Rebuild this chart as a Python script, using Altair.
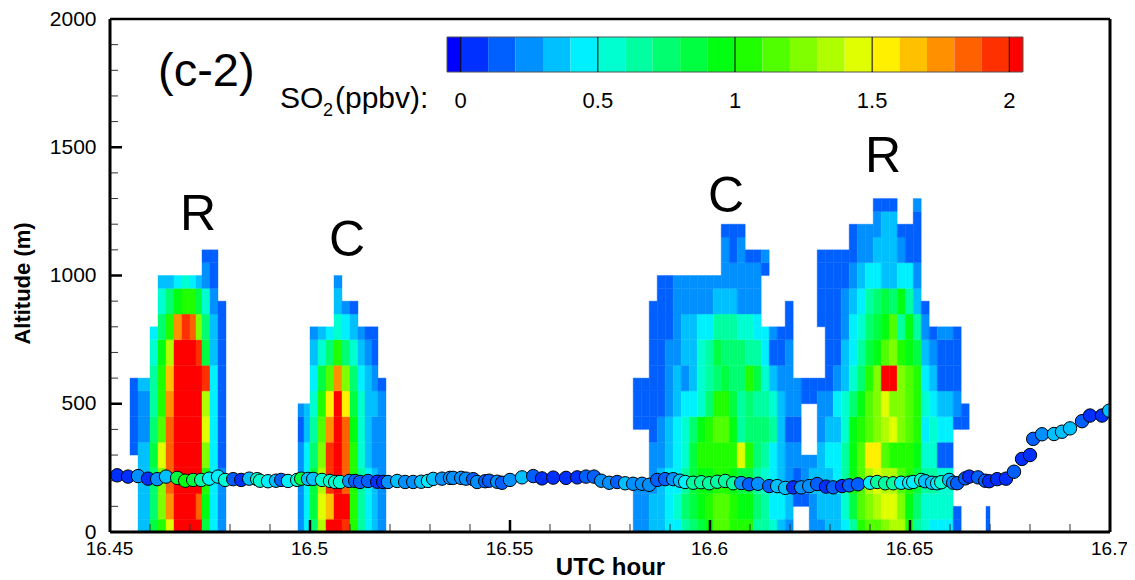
import altair as alt
import pandas as pd

_ = None
FONT = "Liberation Sans"

# colour bands (ppbv): below 0, then one band per 0.1 up to 2, then above 2
band_breaks = [round(i / 10, 1) for i in range(0, 21)]
band_colors = ["#0000ff", "#0030ff", "#0060ff", "#0090ff", "#00c0ff", "#00f0ff", "#00ffd0", "#00ffa0",
               "#00ff70", "#00ff40", "#00ff10", "#20ff00", "#50ff00", "#80ff00", "#b0ff00", "#e0ff00",
               "#fff000", "#ffc000", "#ff9000", "#ff6000", "#ff3000", "#ff0000"]
# band index: values in tenths of ppbv, 21 = above 2

plume1_edges = [16.4550, 16.4570, 16.4600, 16.4620, 16.4640, 16.4660, 16.4680, 16.4700, 16.4715, 16.4730,
                16.4750, 16.4770, 16.4790]
plume1_rows = [
    [_, 3, 8, 10, 14, 21, 21, 21, 20, 8, 4, 2],
    [_, 3, 7, 12, 17, 21, 21, 21, 18, 9, 4, 2],
    [_, 3, 7, 12, 18, 21, 21, 21, 21, 10, 4, 2],
    [1, 3, 8, 14, 18, 21, 21, 21, 21, 12, 4, 1],
    [1, 2, 7, 11, 18, 21, 21, 21, 21, 14, 4, 1],
    [1, 2, 6, 10, 17, 21, 21, 21, 21, 13, 4, 1],
    [1, 3, 6, 10, 16, 21, 21, 21, 21, 19, 4, 1],
    [_, _, 5, 9, 13, 21, 21, 21, 19, 8, 3, 1],
    [_, _, 4, 7, 10, 17, 19, 18, 12, 7, 3, 1],
    [_, _, _, 5, 7, 9, 10, 10, 8, 5, 2, 1],
    [_, _, _, 3, 3, 4, 5, 4, 3, 2, 1, _],
    [_, _, _, _, _, _, _, _, _, 1, 1, _],
]

plume2_edges = [16.4970, 16.4985, 16.5000, 16.5020, 16.5040, 16.5060, 16.5080, 16.5100, 16.5120, 16.51375,
                16.5155, 16.5170, 16.5190]
plume2_rows = [
    [2, 4, 7, 13, 20, 21, 19, 10, 6, 4, 3, 2],
    [2, 4, 8, 14, 16, 21, 20, 10, 6, 4, 3, 2],
    [2, 4, 8, 13, 19, 21, 18, 10, 6, 4, 3, 2],
    [2, 4, 7, 12, 19, 21, 18, 10, 5, 3, 2, 2],
    [1, 3, 6, 11, 17, 21, 18, 9, 5, 3, 2, 2],
    [2, 3, 5, 10, 15, 21, 15, 8, 5, 3, 3, 2],
    [_, _, 4, 8, 11, 17, 12, 7, 4, 3, 2, 1],
    [_, _, 3, 5, 7, 10, 7, 5, 3, 2, 1, _],
    [_, _, 2, 3, 4, 5, 4, 3, 2, 1, 1, _],
    [_, _, _, _, _, 3, 2, 1, _, _, _, _],
    [_, _, _, _, _, 2, _, _, _, _, _, _],
]

plume3_edges = [16.5808, 16.5828, 16.5848, 16.5868, 16.5888, 16.5908, 16.5928, 16.5948, 16.5968, 16.5988,
                16.6008, 16.6028, 16.6048, 16.6068, 16.6088, 16.6108, 16.6128, 16.6148, 16.6168, 16.6188,
                16.6208, 16.6228, 16.6248, 16.6268, 16.6288, 16.6308, 16.6328, 16.6348, 16.6368, 16.6388,
                16.6408, 16.6428, 16.6448, 16.6468, 16.6488, 16.6508, 16.6528, 16.6548, 16.6568, 16.6588,
                16.6608, 16.6628, 16.6648]
plume3_rows = [
    [2, 2, 3, 3, 4, 4, 6, 7, 8, 9, 11, 11, 10, 10, 10, 6, 6, 5, 3, 2, _, _, 2, 2, 3, 3, 4, 6, 10, 11, 11, 12, 13, 13, 10, 6, 5, 4, 4, 4, 1, _],
    [2, 2, 3, 3, 4, 5, 7, 8, 9, 10, 11, 11, 10, 9, 9, 7, 6, 4, 4, 3, 1, 1, 2, 3, 3, 3, 5, 8, 11, 12, 13, 14, 14, 12, 9, 7, 5, 5, 5, 5, 1, _],
    [2, 2, 2, 3, 4, 4, 6, 8, 9, 9, 10, 10, 9, 8, 8, 6, 5, 4, 3, 2, 1, 2, 3, 3, 3, 4, 6, 9, 11, 13, 14, 13, 13, 11, 10, 8, 6, 6, 5, 5, _, _],
    [_, _, 2, 2, 3, 4, 5, 8, 10, 10, 10, 10, 10, 14, 10, 7, 6, 4, 3, 2, 2, 2, 2, 3, 4, 4, 6, 9, 11, 15, 15, 11, 10, 10, 10, 9, 5, 5, 1, 1, _, _],
    [1, 1, 1, 2, 3, 4, 5, 7, 9, 10, 11, 11, 9, 6, 7, 7, 7, 6, 3, 1, 1, _, _, 2, 3, 3, 5, 9, 10, 11, 12, 13, 14, 12, 11, 10, 4, 5, 4, 4, 1, 1],
    [1, 1, 1, 1, 2, 3, 4, 4, 5, 7, 10, 10, 8, 6, 7, 6, 6, 5, 3, 2, 2, 1, 1, 2, 2, 4, 5, 7, 9, 11, 12, 14, 12, 12, 11, 10, 5, 4, 3, 3, 2, 1],
    [1, 1, 1, 1, 2, 3, 2, 3, 5, 6, 7, 8, 7, 7, 10, 8, 5, 3, 2, 2, 2, 1, 1, 1, 1, 2, 3, 5, 7, 10, 12, 21, 21, 12, 11, 10, 4, 3, 1, 1, 1, _],
    [_, _, 1, 1, 2, 2, 3, 3, 5, 6, 8, 7, 7, 7, 6, 6, 4, 1, 1, 2, _, _, _, _, 1, 1, 3, 4, 6, 8, 9, 11, 12, 10, 9, 8, 3, 2, 1, 1, 1, _],
    [_, _, 1, 1, 1, 2, 3, 3, 4, 4, 6, 6, 6, 5, 5, 4, 4, 2, 1, 1, _, _, _, 1, 1, 1, 2, 4, 5, 7, 8, 9, 11, 6, 9, 6, 2, 1, 2, 2, 1, _],
    [_, _, 1, 1, 1, 2, 2, 2, 2, 2, 3, 3, 3, 2, 2, 2, _, _, _, 1, _, _, _, 1, 1, 1, 2, 3, 4, 6, 7, 8, 7, 9, 6, 3, 1, _, _, _, _, _],
    [_, _, _, 1, 1, 2, 2, 2, 2, 2, 2, 2, 2, 2, 2, 2, 1, _, _, _, _, _, _, 1, 1, 1, 1, 2, 3, 4, 4, 3, 3, 4, 4, 2, _, _, _, _, _, _],
    [_, _, _, _, _, _, _, _, _, _, _, 2, 1, 2, 1, 1, 2, _, _, _, _, _, _, 1, 1, 1, 1, 1, 2, 2, 3, 3, 3, 2, 1, 1, _, _, _, _, _, _],
    [_, _, _, _, _, _, _, _, _, _, _, 1, 1, 1, _, _, _, _, _, _, _, _, _, _, _, _, _, 1, 2, 2, 2, 3, 3, 1, 1, 1, _, _, _, _, _, _],
    [_, _, _, _, _, _, _, _, _, _, _, _, _, _, _, _, _, _, _, _, _, _, _, _, _, _, _, _, _, _, 1, 1, 1, _, _, 2, _, _, _, _, _, _],
]

sliver_edges = [16.6690, 16.6700]
sliver_rows = [[1], [1]]

flight_hour = [16.4518, 16.4545, 16.4570, 16.4595, 16.4618, 16.4640, 16.4668, 16.4688, 16.4708, 16.4728,
               16.4748, 16.4770, 16.4788, 16.4808, 16.4828, 16.4848, 16.4868, 16.4875, 16.4895, 16.4915,
               16.4928, 16.4945, 16.4968, 16.4978, 16.4995, 16.5008, 16.5030, 16.5050, 16.5063, 16.5075,
               16.5098, 16.5113, 16.5125, 16.5145, 16.5168, 16.5183, 16.5195, 16.5218, 16.5238, 16.5258,
               16.5278, 16.5295, 16.5308, 16.5330, 16.5350, 16.5358, 16.5378, 16.5390, 16.5408, 16.5418,
               16.5438, 16.5448, 16.5468, 16.5480, 16.5500, 16.5530, 16.5558, 16.5580, 16.5608, 16.5640,
               16.5668, 16.5690, 16.5710, 16.5728, 16.5748, 16.5768, 16.5788, 16.5808, 16.5830, 16.5848,
               16.5868, 16.5888, 16.5908, 16.5925, 16.5938, 16.5958, 16.5978, 16.5998, 16.6018, 16.6038,
               16.6058, 16.6078, 16.6098, 16.6120, 16.6148, 16.6168, 16.6188, 16.6208, 16.6228, 16.6248,
               16.6268, 16.6290, 16.6308, 16.6330, 16.6348, 16.6370, 16.6400, 16.6418, 16.6438, 16.6458,
               16.6478, 16.6498, 16.6508, 16.6528, 16.6538, 16.6555, 16.6568, 16.6578, 16.6598, 16.6608,
               16.6618, 16.6638, 16.6648, 16.6670, 16.6688, 16.6698, 16.6718, 16.6740, 16.6760, 16.6780,
               16.6800, 16.6808, 16.6830, 16.6860, 16.6880, 16.6900, 16.6930, 16.6950, 16.6980, 16.6998]
flight_alt = [221, 216, 218, 208, 206, 216, 211, 200, 203, 203,
              208, 216, 203, 206, 203, 208, 206, 200, 198, 200,
              203, 199, 203, 208, 207, 207, 203, 199, 195, 195,
              199, 199, 195, 199, 196, 195, 195, 199, 195, 195,
              196, 199, 207, 208, 211, 211, 211, 208, 206, 195,
              198, 200, 196, 192, 203, 213, 218, 209, 212, 211,
              213, 216, 216, 200, 192, 195, 190, 188, 188, 184,
              203, 206, 206, 200, 195, 192, 194, 190, 196, 199,
              190, 191, 186, 188, 179, 179, 172, 174, 174, 179,
              187, 177, 174, 179, 182, 186, 192, 195, 190, 190,
              192, 192, 195, 203, 198, 192, 190, 194, 203, 192,
              190, 209, 216, 213, 200, 198, 206, 208, 235, 285,
              300, 363, 381, 382, 391, 404, 432, 454, 454, 473]
flight_band = [0, 0, 2, 0, 2, 3, 8, 9, 8, 6, 4, 4, 5, 1, 0, 3, 5, 5, 4, 3, 1, 4, 5, 8, 3, 3, 5, 5, 5, 5, 2, 1, 1,
               1, 0, 0, 2, 3, 2, 2, 3, 4, 3, 2, 2, 2, 2, 2, 1, 2, 1, 1, 2, 1, 2, 3, 1, 0, 0, 0, 0, 1, 1, 2, 2, 1,
               3, 2, 2, 2, 1, 1, 2, 3, 4, 6, 6, 6, 6, 6, 6, 2, 1, 2, 1, 3, 3, 0, 2, 2, 1, 0, 1, 0, 1, 1, 4,
               6, 6, 6, 4, 4, 4, 5, 3, 3, 4, 5, 3, 2, 1, 1, 0, 1, 1, 0, 0, 0, 1,
               0, 0, 1, 2, 3, 3, 3, 1, 0, 0, 3]

x_major = [16.5, 16.55, 16.6, 16.65]
x_minor = [16.46, 16.47, 16.48, 16.49, 16.51, 16.52, 16.53, 16.54, 16.56, 16.57, 16.58, 16.59,
           16.61, 16.62, 16.63, 16.64, 16.66, 16.67, 16.68, 16.69]
y_major = [500, 1000, 1500]
y_minor = [100, 200, 300, 400, 600, 700, 800, 900, 1100, 1200, 1300, 1400, 1600, 1700, 1800, 1900]
x_labels = [16.45, 16.5, 16.55, 16.6, 16.65, 16.7]
y_labels = [0, 500, 1000, 1500, 2000]
plume_text = ["R", "C", "C", "R"]
plume_hour = [16.4720, 16.50925, 16.6040, 16.64325]
plume_alt = [1236, 1135, 1306, 1462]
bar_values = [0, 0.5, 1, 1.5, 2]
bar_texts = ["0", "0.5", "1", "1.5", "2"]

W, H = 1000, 513

cells = []
for edges, rows in [(plume1_edges, plume1_rows), (plume2_edges, plume2_rows),
                    (plume3_edges, plume3_rows), (sliver_edges, sliver_rows)]:
    for r, row in enumerate(rows):
        for c, v in enumerate(row):
            if v is None:
                continue
            above = r + 1 < len(rows) and rows[r + 1][c] is not None
            below = r > 0 and rows[r - 1][c] is not None
            cells.append({"h0": edges[c], "h1": edges[c + 1],
                          "a0": r * 100 - 50 if below else r * 100,
                          "a1": r * 100 + 50 if above else r * 100,
                          "so2": v / 10 + 0.05})
cells = pd.DataFrame(cells)
flight = pd.DataFrame({"h": flight_hour, "a": flight_alt, "so2": [b / 10 + 0.05 for b in flight_band]})

x_scale = alt.Scale(domain=[16.45, 16.7], nice=False, zero=False)
y_scale = alt.Scale(domain=[0, 2000], nice=False, zero=False)
fill_scale = alt.Scale(type="threshold", domain=band_breaks, range=band_colors)
bar_scale = alt.Scale(domain=[-0.05, 2.05], range=[337, 913], nice=False, zero=False)

x_enc = alt.X("h0:Q", scale=x_scale, title="UTC hour",
              axis=alt.Axis(values=x_labels, format=".2~f", grid=False, domain=False, ticks=False, tickSize=0,
                            labelFlush=False, labelPadding=7, labelOffset=-1, labelFont=FONT, labelFontSize=19,
                            labelColor="black",
                            titleFont=FONT, titleFontSize=24, titleFontWeight="bold", titleColor="black",
                            titleBaseline="alphabetic", titleY=42))
y_enc = alt.Y("a0:Q", scale=y_scale, title="Altitude (m)",
              axis=alt.Axis(values=y_labels, format="d", grid=False, domain=False, ticks=False, tickSize=0,
                            labelFlush=False, labelPadding=14, labelFont=FONT, labelFontSize=21, labelColor="black",
                            titleFont=FONT, titleFontSize=22, titleFontWeight="bold", titleColor="black",
                            titlePadding=15, titleY=264))

heat = alt.Chart(cells).mark_rect(clip=True, strokeWidth=0.4).encode(
    x=x_enc, x2="h1:Q", y=y_enc, y2="a1:Q",
    fill=alt.Fill("so2:Q", scale=fill_scale, legend=None),
    stroke=alt.Stroke("so2:Q", scale=fill_scale, legend=None))


def xticks(vals, length, width, color):
    return alt.Chart(pd.DataFrame({"h": vals})).mark_rule(strokeWidth=width, color=color).encode(
        x=alt.X("h:Q", scale=x_scale, axis=None), y=alt.value(H), y2=alt.value(H - length))


def yticks(vals, length, width, color):
    return alt.Chart(pd.DataFrame({"a": vals})).mark_rule(strokeWidth=width, color=color).encode(
        y=alt.Y("a:Q", scale=y_scale, axis=None), x=alt.value(0), x2=alt.value(length))


markers = alt.Chart(flight).mark_circle(size=180, opacity=1, stroke="black", strokeWidth=1, clip=True).encode(
    x=alt.X("h:Q", scale=x_scale, axis=None), y=alt.Y("a:Q", scale=y_scale, axis=None),
    fill=alt.Fill("so2:Q", scale=fill_scale, legend=None))

labels = alt.Chart(pd.DataFrame({"t": plume_text, "h": plume_hour, "a": plume_alt})).mark_text(
    font=FONT, fontSize=50, color="black", baseline="middle").encode(
    x=alt.X("h:Q", scale=x_scale, axis=None), y=alt.Y("a:Q", scale=y_scale, axis=None), text="t:N")


def px_text(t, x, y, size, align="left"):
    return alt.Chart(pd.DataFrame({"t": [t]})).mark_text(
        font=FONT, fontSize=size, color="black", align=align, baseline="alphabetic").encode(
        x=alt.value(x), y=alt.value(y), text="t:N")


def edge(x0, x1, y0, y1, w):
    return alt.Chart(pd.DataFrame({"k": [0]})).mark_rule(color="black", strokeWidth=w).encode(
        x=alt.value(x0), x2=alt.value(x1), y=alt.value(y0), y2=alt.value(y1))


bar_lo = [-0.05] + band_breaks
bar_hi = band_breaks + [2.05]
bar_df = pd.DataFrame({"lo": bar_lo, "hi": bar_hi, "so2": [(a + b) / 2 for a, b in zip(bar_lo, bar_hi)]})
bar = alt.Chart(bar_df).mark_rect().encode(
    x=alt.X("lo:Q", scale=bar_scale, axis=None), x2="hi:Q",
    y=alt.value(18), y2=alt.value(53),
    fill=alt.Fill("so2:Q", scale=fill_scale, legend=None))
bar_box = alt.Chart(pd.DataFrame({"lo": [-0.05], "hi": [2.05]})).mark_rect(
    fillOpacity=0, stroke="#555555", strokeWidth=1).encode(
    x=alt.X("lo:Q", scale=bar_scale, axis=None), x2="hi:Q", y=alt.value(18), y2=alt.value(53))
bar_lines = alt.Chart(pd.DataFrame({"v": bar_values})).mark_rule(color="black", strokeWidth=1).encode(
    x=alt.X("v:Q", scale=bar_scale, axis=None), y=alt.value(18), y2=alt.value(53))
bar_text = alt.Chart(pd.DataFrame({"v": bar_values, "t": bar_texts})).mark_text(
    font=FONT, fontSize=22, color="black", baseline="middle").encode(
    x=alt.X("v:Q", scale=bar_scale, axis=None), y=alt.value(82), text="t:N")

chart = alt.layer(
    heat,
    xticks(x_minor, 8, 1, "#333333"), xticks(x_major, 12, 2.5, "black"),
    yticks(y_minor, 8, 1, "#333333"), yticks(y_major, 12, 2.5, "black"),
    markers, labels,
    px_text("(c-2)", 48, 67, 47),
    px_text("SO", 170, 89, 30), px_text("2", 213, 97, 18), px_text("(ppbv):", 225, 89, 30),
    edge(0, 0, 0, H, 3), edge(W, W, 0, H, 3), edge(0, W, H, H, 3), edge(0, W, 0, 0, 2.5),
    bar, bar_box, bar_lines, bar_text,
).resolve_scale(x="independent").resolve_axis(y="independent").properties(
    width=W, height=H, autosize=alt.AutoSizeParams(type="none"),
    padding={"left": 102, "top": 11, "right": 17, "bottom": 46},
).configure_view(stroke=None)

chart.save("out.html", embed_options={"renderer": "svg", "actions": False})
